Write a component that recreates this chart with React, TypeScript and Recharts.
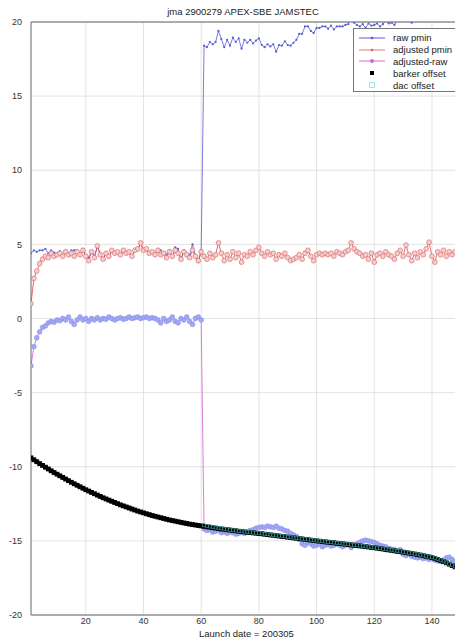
import React from 'react';
import { LineChart, Line, XAxis, YAxis, CartesianGrid, ReferenceLine } from 'recharts';

// profile numbers 1..148
const profiles: number[] = Array.from({ length: 148 }, (_, i) => i + 1);

const rawPmin: number[] = [
  4.4, 4.6, 4.5, 4.6, 4.6, 4.7, 4.4, 4.6, 4.45, 4.4,
  4.55, 4.2, 4.6, 4.2, 4.6, 4.6, 4.6, 4.2, 4.7, 4.2,
  4.1, 4.5, 4.2, 4.85, 4.4, 4.0, 4.45, 4.1, 4.6, 4.5,
  4.5, 4.25, 4.65, 4.4, 4.4, 4.2, 4.55, 4.6, 5.1, 4.55,
  4.6, 4.4, 4.45, 4.3, 4.7, 4.6, 4.4, 4.3, 4.6, 4.1,
  4.8, 4.7, 4.0, 4.6, 4.2, 4.3, 5.0, 4.2, 3.8, 4.6,
  18.4, 18.3, 18.65, 18.5, 18.65, 19.4, 18.85, 18.3, 18.8, 18.4,
  18.95, 18.65, 18.9, 18.2, 18.8, 18.6, 18.8, 18.55, 18.75, 18.9,
  18.45, 18.3, 18.5, 18.35, 18.5, 18.0, 18.45, 18.4, 18.7, 18.45,
  18.4, 18.6, 18.8, 19.2, 19.2, 19.7, 19.7, 19.4, 19.25, 19.6,
  19.6, 19.7, 19.7, 19.55, 19.75, 19.5, 19.7, 19.7, 19.7, 19.8,
  19.85, 20.55, 19.95, 19.8, 19.7, 19.85, 19.6, 19.9, 19.75, 19.8,
  19.9, 19.7, 19.85, 20.1, 19.9, 19.95, 19.8, 20.1, 20.2, 20.1,
  20.95, 20.2, 19.95, 20.5, 20.25, 20.6, 20.5, 20.85, 21.4, 20.4,
  20.1, 20.85, 20.7, 20.9, 20.35, 20.6, 20.55, 20.9,
];

const adjustedPmin: number[] = [
  1.0, 2.7, 3.2, 3.7, 4.0, 4.2, 4.1, 4.4, 4.2, 4.3,
  4.4, 4.2, 4.5, 4.3, 4.4, 4.2, 4.5, 4.3, 4.6, 4.2,
  3.9, 4.5, 4.1, 4.9, 4.3, 4.0, 4.4, 4.2, 4.6, 4.4,
  4.5, 4.3, 4.6, 4.4, 4.5, 4.2, 4.6, 4.7, 5.1, 4.6,
  4.7, 4.4, 4.5, 4.3, 4.6, 4.3, 4.4, 4.1, 4.5, 4.2,
  4.6, 4.4, 4.0, 4.5, 4.3, 4.1, 4.6, 4.2, 3.9, 4.5,
  4.2, 4.0, 4.4, 4.1, 4.3, 5.1, 4.4, 3.9, 4.3, 4.0,
  4.5, 4.1, 4.4, 3.8, 4.3, 4.2, 4.5, 4.3, 4.6, 4.8,
  4.4, 4.2, 4.5, 4.3, 4.4, 4.0, 4.3, 4.2, 4.4, 4.1,
  3.9, 4.0, 4.1, 4.3, 4.0, 4.4, 4.6, 4.2, 3.9, 4.3,
  4.4, 4.3, 4.4, 4.3, 4.4, 4.2, 4.5, 4.4, 4.3, 4.5,
  4.6, 5.1, 4.7, 4.5, 4.4, 4.2, 4.3, 4.0, 4.4, 3.8,
  4.3, 4.4, 4.2, 4.5, 4.3, 4.2, 4.0, 4.4, 4.6, 4.2,
  4.95, 4.3, 3.9, 4.4, 4.1, 4.5, 4.3, 4.7, 5.15, 4.2,
  3.8, 4.5, 4.3, 4.6, 4.2, 4.5, 4.3, 4.5,
];

const adjustedRaw: number[] = [
  -3.2, -1.9, -1.3, -0.9, -0.6, -0.5, -0.3, -0.2, -0.25, -0.1,
  -0.15, 0.0, -0.1, 0.1, -0.2, -0.4, -0.1, 0.1, -0.1, 0.0,
  -0.2, 0.0, -0.1, 0.05, -0.1, 0.0, -0.05, 0.1, 0.0, -0.1,
  0.0, 0.05, -0.05, 0.0, 0.1, 0.0, 0.05, 0.1, 0.0, 0.05,
  0.1, 0.0, 0.05, 0.0, -0.1, -0.3, 0.0, -0.2, -0.1, 0.1,
  -0.2, -0.3, 0.0, -0.1, 0.1, -0.2, -0.4, 0.0, 0.1, -0.1,
  -14.2, -14.3, -14.25, -14.4, -14.35, -14.3, -14.45, -14.4, -14.5, -14.4,
  -14.45, -14.55, -14.5, -14.4, -14.5, -14.4, -14.3, -14.25, -14.15, -14.1,
  -14.05, -14.1, -14.0, -14.05, -14.1, -14.0, -14.15, -14.2, -14.3, -14.35,
  -14.5, -14.6, -14.7, -14.9, -15.2, -15.3, -15.1, -15.2, -15.35, -15.3,
  -15.2, -15.4, -15.3, -15.25, -15.35, -15.3, -15.2, -15.3, -15.4, -15.3,
  -15.25, -15.45, -15.3, -15.2, -15.1, -15.0, -14.95, -15.0, -15.05, -15.1,
  -15.2, -15.3, -15.35, -15.4, -15.5, -15.55, -15.6, -15.7, -15.6, -15.9,
  -16.0, -15.9, -16.05, -16.1, -16.15, -16.1, -16.2, -16.15, -16.25, -16.2,
  -16.3, -16.35, -16.4, -16.3, -16.15, -16.1, -16.25, -16.4,
];

const barkerOffset: number[] = [
  -9.4, -9.53, -9.66, -9.79, -9.91, -10.03, -10.15, -10.27, -10.39, -10.5,
  -10.61, -10.72, -10.83, -10.94, -11.05, -11.15, -11.25, -11.35, -11.45, -11.55,
  -11.64, -11.73, -11.82, -11.91, -12.0, -12.09, -12.17, -12.25, -12.33, -12.41,
  -12.49, -12.57, -12.64, -12.71, -12.78, -12.85, -12.92, -12.99, -13.05, -13.11,
  -13.17, -13.23, -13.29, -13.34, -13.39, -13.44, -13.49, -13.54, -13.59, -13.63,
  -13.67, -13.71, -13.75, -13.79, -13.83, -13.87, -13.9, -13.93, -13.96, -13.99,
  -14.02, -14.05, -14.08, -14.11, -14.14, -14.17, -14.2, -14.22, -14.25, -14.27,
  -14.3, -14.32, -14.35, -14.37, -14.4, -14.42, -14.44, -14.46, -14.48, -14.5,
  -14.52, -14.55, -14.57, -14.6, -14.62, -14.65, -14.67, -14.7, -14.72, -14.75,
  -14.77, -14.8, -14.82, -14.85, -14.87, -14.9, -14.92, -14.95, -14.97, -15.0,
  -15.02, -15.04, -15.07, -15.09, -15.11, -15.13, -15.16, -15.18, -15.2, -15.22,
  -15.25, -15.27, -15.29, -15.32, -15.34, -15.36, -15.39, -15.41, -15.44, -15.46,
  -15.49, -15.52, -15.55, -15.58, -15.61, -15.64, -15.67, -15.7, -15.73, -15.76,
  -15.79, -15.82, -15.86, -15.89, -15.93, -15.96, -16.0, -16.04, -16.08, -16.12,
  -16.18, -16.25, -16.32, -16.4, -16.48, -16.57, -16.66, -16.75,
];

// dac offset only exists from profile 61 on
const dacStart = 61;
const dacOffset: number[] = [
  -13.95, -13.99, -14.03, -14.06, -14.1, -14.13, -14.16, -14.19, -14.22, -14.25,
  -14.28, -14.3, -14.33, -14.35, -14.38, -14.4, -14.42, -14.44, -14.46, -14.48,
  -14.5, -14.53, -14.55, -14.58, -14.6, -14.63, -14.65, -14.68, -14.7, -14.73,
  -14.75, -14.78, -14.8, -14.83, -14.85, -14.88, -14.9, -14.93, -14.95, -14.98,
  -15.0, -15.02, -15.05, -15.07, -15.09, -15.11, -15.14, -15.16, -15.18, -15.2,
  -15.23, -15.25, -15.27, -15.3, -15.32, -15.34, -15.37, -15.39, -15.42, -15.44,
  -15.47, -15.5, -15.53, -15.56, -15.59, -15.62, -15.65, -15.68, -15.71, -15.74,
  -15.77, -15.8, -15.84, -15.87, -15.91, -15.94, -15.98, -16.02, -16.06, -16.1,
  -16.16, -16.23, -16.3, -16.38, -16.46, -16.55, -16.64, -16.73,
];

const xTicks = [20, 40, 60, 80, 100, 120, 140];
const yTicks = [-20, -15, -10, -5, 0, 5, 10, 15, 20];

const data = profiles.map((p, i) => ({
  x: p,
  raw: rawPmin[i],
  adj: adjustedPmin[i],
  adjRaw: adjustedRaw[i],
  barker: barkerOffset[i],
  dac: p >= dacStart ? dacOffset[p - dacStart] : null,
}));

const FONT = '"Liberation Sans", Arial, sans-serif';

const ok = (p: any) => p.cx != null && p.cy != null && !isNaN(p.cx) && !isNaN(p.cy);

const RawDot = (p: any) =>
  ok(p) ? <circle key={p.index} cx={p.cx} cy={p.cy} r={1.1} fill="#5a5ad6" /> : <g key={p.index} />;
const AdjDot = (p: any) =>
  ok(p) ? (
    <circle key={p.index} cx={p.cx} cy={p.cy} r={2.4} fill="#f6cccc" stroke="#d86060" strokeWidth={0.6} />
  ) : <g key={p.index} />;
const AdjRawDot = (p: any) =>
  ok(p) ? (
    <circle key={p.index} cx={p.cx} cy={p.cy} r={2.4} fill="#a2a8f2" stroke="#7c84e8" strokeWidth={0.5} />
  ) : <g key={p.index} />;
const BarkerDot = (p: any) =>
  ok(p) ? <rect key={p.index} x={p.cx - 2.4} y={p.cy - 2.4} width={4.8} height={4.8} fill="#000" /> : <g key={p.index} />;
const DacDot = (p: any) =>
  ok(p) ? (
    <rect key={p.index} x={p.cx - 1.5} y={p.cy - 1.5} width={3} height={3} fill="none" stroke="#3a9c9c" strokeWidth={0.6} />
  ) : <g key={p.index} />;

const legendItems = [
  { label: 'raw pmin', line: '#5a5ad6', mark: <circle cx={14} cy={5} r={1.3} fill="#5a5ad6" /> },
  { label: 'adjusted pmin', line: '#e08080', mark: <circle cx={14} cy={5} r={1.3} fill="#d86060" /> },
  { label: 'adjusted-raw', line: '#d070d0', mark: <circle cx={14} cy={5} r={2} fill="#c070e0" /> },
  { label: 'barker offset', line: null, mark: <rect x={12} y={3} width={4} height={4} fill="#000" /> },
  { label: 'dac offset', line: null, mark: <rect x={11.5} y={2.5} width={5} height={5} fill="none" stroke="#9fe6ee" strokeWidth={1} /> },
];

export default function App() {
  return (
    <div style={{ position: 'absolute', left: 0, top: 0, width: 455, height: 643, background: '#fff', fontFamily: FONT }}>
      <div style={{ position: 'absolute', left: 143, width: 200, top: 6, textAlign: 'center', fontSize: 9.5, color: '#222', whiteSpace: 'nowrap' }}>
        jma 2900279 APEX-SBE JAMSTEC
      </div>
      <LineChart width={455} height={643} data={data} margin={{ top: 22, right: 0, bottom: 0, left: 0 }}>
        <CartesianGrid stroke="#dcdcdc" strokeWidth={0.8} verticalValues={xTicks} horizontalValues={yTicks} />
        <XAxis
          dataKey="x"
          type="number"
          domain={[1, 148]}
          ticks={xTicks}
          height={28}
          allowDataOverflow
          tickLine={false}
          tickSize={3}
          tickMargin={0}
          axisLine={{ stroke: '#666' }}
          tick={{ fontSize: 9, fill: '#333', fontFamily: FONT }}
        />
        <YAxis
          type="number"
          domain={[-20, 20]}
          ticks={yTicks}
          width={31}
          allowDataOverflow
          tickLine={false}
          axisLine={{ stroke: '#666' }}
          tick={{ fontSize: 9, fill: '#333', fontFamily: FONT }}
          tickMargin={3}
        />
        <ReferenceLine y={20} stroke="#666" />
        <Line dataKey="raw" stroke="#5a5ad6" strokeWidth={0.8} dot={RawDot} isAnimationActive={false} />
        <Line dataKey="adj" stroke="#d84848" strokeWidth={0.8} dot={AdjDot} isAnimationActive={false} />
        <Line dataKey="adjRaw" stroke="#d060d0" strokeWidth={0.8} dot={AdjRawDot} isAnimationActive={false} />
        <Line dataKey="barker" stroke="#000" strokeWidth={3.5} dot={BarkerDot} legendType="square" isAnimationActive={false} />
        <Line dataKey="dac" stroke="none" dot={DacDot} isAnimationActive={false} />
      </LineChart>
      <div style={{ position: 'absolute', left: 199, top: 628, fontSize: 9.5, color: '#222', whiteSpace: 'nowrap' }}>
        Launch date = 200305
      </div>
      <div
        style={{
          position: 'absolute',
          left: 353,
          top: 28,
          width: 110,
          height: 64,
          border: '1px solid #777',
          background: '#fff',
          boxSizing: 'border-box',
          paddingTop: 3,
        }}
      >
        {legendItems.map((it) => (
          <div key={it.label} style={{ display: 'flex', alignItems: 'center', height: 11.8 }}>
            <svg width={36} height={10} style={{ marginLeft: 3 }}>
              {it.line && <line x1={2} y1={5} x2={28} y2={5} stroke={it.line} strokeWidth={1} />}
              <g transform="translate(1,0)">{it.mark}</g>
            </svg>
            <span style={{ fontSize: 9.5, color: '#222', whiteSpace: 'nowrap' }}>{it.label}</span>
          </div>
        ))}
      </div>
    </div>
  );
}
